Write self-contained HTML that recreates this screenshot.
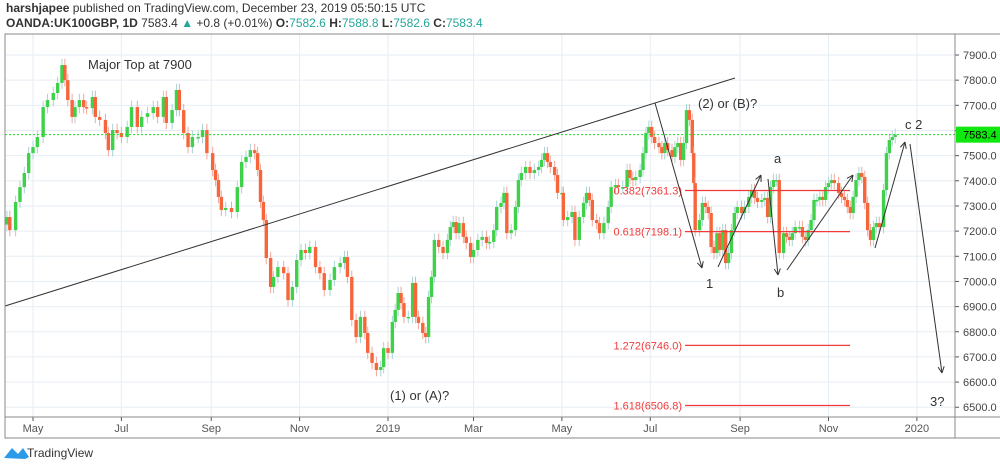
<!DOCTYPE html>
<html><head><meta charset="utf-8"><style>
html,body{margin:0;padding:0;background:#fff;width:1000px;height:467px;overflow:hidden}
svg text{font-family:"Liberation Sans","DejaVu Sans",sans-serif}
</style></head><body>
<svg id="chart" width="1000" height="467" xmlns="http://www.w3.org/2000/svg">
<text x="6" y="12" font-size="12" fill="#333"><tspan font-weight="bold">harshjapee</tspan> published on TradingView.com, December 23, 2019 05:50:15 UTC</text>
<text x="6" y="27" font-size="12" fill="#333"><tspan font-weight="bold">OANDA:UK100GBP, 1D</tspan> 7583.4 <tspan fill="#26a69a">▲</tspan> +0.8 (+0.01%) <tspan font-weight="bold">O:</tspan><tspan fill="#26a69a">7582.6</tspan> <tspan font-weight="bold">H:</tspan><tspan fill="#26a69a">7588.8</tspan> <tspan font-weight="bold">L:</tspan><tspan fill="#26a69a">7582.6</tspan> <tspan font-weight="bold">C:</tspan><tspan fill="#26a69a">7583.4</tspan></text>
<g id="grid"></g>
<g id="candles"></g>
<g id="ann"></g>
<g id="axes"></g>
</svg>
<script>
// days since 2018-05-01
const days=[-18,-16,-12,-9,-6,-3,0,3,7,10,14,17,20,22,24,27,29,32,35,37,41,43,46,50,52,55,58,61,65,68,72,75,79,83,86,90,92,96,99,101,104,107,110,114,117,120,124,126,128,130,133,137,141,144,147,150,153,155,157,159,161,164,166,169,173,176,179,182,185,188,191,195,198,201,205,208,212,215,217,220,223,226,229,231,234,237,240,242,245,248,250,252,254,256,259,262,264,266,269,271,273,275,277,280,283,286,288,290,292,294,297,299,302,304,307,310,313,315,318,320,323,325,327,330,333,335,337,340,343,346,349,351,353,355,357,360,362,365,366,369,372,374,377,380,382,384,386,389,391,394,397,399,402,404,407,410,412,414,416,419,421,423,425,427,429,432,434,436,438,441,443,445,447,449,451,453,455,456,457,460,462,464,466,468,470,472,474,476,478,480,482,484,486,489,491,494,496,498,500,503,505,507,509,511,513,515,518,520,522,524,526,529,531,533,535,537,539,541,543,545,547,549,551,553,556,558,560,562,564,566,568,570,572,574,576,578,580,582,584,587,589,591,593,595];
const closes=[7256,7204,7316,7375,7431,7510,7534,7574,7693,7721,7749,7789,7860,7800,7721,7654,7693,7721,7693,7689,7733,7654,7642,7590,7522,7602,7590,7574,7614,7693,7614,7654,7669,7693,7654,7733,7630,7681,7761,7681,7590,7534,7574,7574,7602,7510,7443,7403,7336,7284,7292,7276,7375,7475,7495,7522,7510,7443,7316,7244,7093,6978,7018,7057,7033,6926,6978,7085,7125,7113,7137,7057,7033,6966,7006,7057,7073,7097,7018,6847,6779,6859,6795,6716,6676,6648,6660,6735,6716,6839,6887,6954,6914,6859,6859,6994,6859,6835,6795,6779,6938,7018,7165,7137,7113,7165,7216,7236,7192,7232,7177,7153,7097,7125,7165,7177,7153,7157,7204,7296,7312,7352,7192,7204,7296,7403,7431,7455,7431,7443,7455,7483,7510,7475,7455,7423,7352,7352,7244,7256,7276,7165,7256,7312,7352,7324,7244,7232,7192,7232,7296,7375,7383,7375,7375,7443,7411,7403,7415,7443,7510,7590,7614,7574,7550,7534,7510,7550,7522,7495,7534,7550,7483,7550,7681,7642,7510,7391,7204,7244,7312,7296,7272,7137,7113,7192,7125,7204,7073,7113,7204,7272,7296,7272,7296,7336,7363,7332,7316,7324,7332,7256,7375,7403,7403,7113,7192,7177,7165,7192,7216,7216,7177,7165,7204,7244,7324,7324,7336,7324,7375,7391,7403,7391,7352,7336,7324,7296,7272,7336,7403,7431,7415,7312,7204,7165,7216,7232,7216,7363,7510,7562,7574,7583];
const priceTicks=[7900,7800,7700,7600,7500,7400,7300,7200,7100,7000,6900,6800,6700,6600,6500];
const monthLabels=["May","Jul","Sep","Nov","2019","Mar","May","Jul","Sep","Nov","2020"];
const monthDays=[0,61,123,184,245,304,365,426,488,549,610];
const fibLabels=["0.382(7361.3)","0.618(7198.1)","1.272(6746.0)","1.618(6506.8)"];
const fibValues=[7361.3,7198.1,6746.0,6506.8];
const lastPrice=7583.4;

const NS="http://www.w3.org/2000/svg";
const X0=5,X1=955,Y0=34,Y1=417;
function xs(d){return 33+d*1.449;}
function ys(v){return 55+(7900-v)*0.2516;}
function mk(tag,attrs,parent){const e=document.createElementNS(NS,tag);for(const k in attrs)e.setAttribute(k,attrs[k]);parent.appendChild(e);return e;}
const grid=document.getElementById('grid'),cg=document.getElementById('candles'),ann=document.getElementById('ann'),ax=document.getElementById('axes');

priceTicks.forEach(v=>{const y=ys(v);
 const l=mk('line',{x1:X0,x2:X1,y1:y,y2:y,stroke:'#e6eef4','stroke-width':1},grid);
 
 
 const t=mk('line',{x1:X1,x2:X1+4,y1:y,y2:y,stroke:'#555'},ax);
 
 
 const tx=mk('text',{x:963,y:y+4,'font-size':11,fill:'#444'},ax);tx.textContent=v.toFixed(1);
 
 
});
monthDays.forEach((d,i)=>{const x=xs(d);
 const l=mk('line',{x1:x,x2:x,y1:Y0,y2:Y1,stroke:'#e6eef4'},grid);
 
 
 const t=mk('line',{x1:x,x2:x,y1:Y1,y2:Y1+4,stroke:'#555'},ax);
 
 
 const tx=mk('text',{x:x,y:432,'font-size':11,fill:'#555','text-anchor':'middle'},ax);tx.textContent=monthLabels[i];
 
 
});

for(let i=0;i<closes.length;i++){
 const c=closes[i],o=i>0?closes[i-1]:c-30;
 const x=xs(days[i]);const up=c>=o;
 const col=up?'#3fd14a':'#f7653b';
 const hi=Math.max(o,c)+25,lo=Math.min(o,c)-25;
 const w=mk('line',{x1:x,x2:x,y1:ys(hi),y2:ys(lo),stroke:up?'#a9d3d6':'#f2a79c','stroke-width':1},cg);
 
 
 const top=ys(Math.max(o,c)),bot=ys(Math.min(o,c));
 const r=mk('rect',{x:x-1.7,y:top,width:3.4,height:Math.max(1.5,bot-top),fill:col},cg);
 
 
}

// last price line
const ly=ys(lastPrice);
const gl=mk('line',{x1:X0,x2:X1,y1:ly,y2:ly,stroke:'#22dd22','stroke-dasharray':'2,2','stroke-width':1},ann);


const gb=mk('rect',{x:956,y:ly-8,width:44,height:16,fill:'#0ee80e'},ax);


const gt=mk('text',{x:963,y:ly+4,'font-size':11,fill:'#000'},ax);gt.textContent=lastPrice.toFixed(1);



// fib levels
fibValues.forEach((v,i)=>{const y=ys(v);
 const l=mk('line',{x1:685,x2:850,y1:y,y2:y,stroke:'#f23a3a','stroke-width':1.3},ann);
 
 
 const t=mk('text',{x:682,y:y+4,'font-size':11,fill:'#f23a3a','text-anchor':'end'},ann);t.textContent=fibLabels[i];
 
 
});

// annotation lines
function arrow(x1,y1,x2,y2,head,name){
 const l=mk('line',{x1,y1,x2,y2,stroke:'#333','stroke-width':1},ann);
 
 
 if(head){const a=Math.atan2(y2-y1,x2-x1);
  [0.45,-0.45].forEach(s=>{const h=mk('line',{x1:x2,y1:y2,x2:x2-7*Math.cos(a+s),y2:y2-7*Math.sin(a+s),stroke:'#333'},ann);
  
  });}
}
arrow(5,306,735,78,false,'trend-line');
arrow(655,103,702,268,true,'wave-1-arrow');
arrow(718,267,761,175,true,'wave-a-arrow');
arrow(768,179,778,275,true,'wave-b-arrow');
arrow(787,270,853,175,true,'wave-c-arrow');
arrow(875,248,905,142,true,'wave-c2-arrow');
arrow(910,144,942,373,true,'wave-3-arrow');

function label(x,y,s,txt,name){const t=mk('text',{x,y,'font-size':s,fill:'#333'},ann);t.textContent=txt;
 
 }
label(88,69,13,'Major Top at 7900','major-top-label');
label(390,400,13,'(1) or (A)?','wave-1a-label');
label(698,108,13,'(2) or (B)?','wave-2b-label');
label(706,288,13,'1','wave-1-label');
label(774,163,13,'a','wave-a-label');
label(777,297,13,'b','wave-b-label');
label(905,129,13,'c 2','wave-c2-label');
label(930,406,13,'3?','wave-3-label');

// frame
const fr=mk('rect',{x:5,y:Y0,width:1000,height:438-Y0,fill:'none',stroke:'#888'},ax);


const bl=mk('line',{x1:5,x2:1000,y1:Y1,y2:Y1,stroke:'#888'},ax);


const vl=mk('line',{x1:X1,x2:X1,y1:Y0,y2:438,stroke:'#888'},ax);


// logo
const lg=mk('path',{d:'M4 458 L12 448 L18 454 L23 448 L29 457 L25 459 Z',fill:'#2d9ae8'},ax);


const lt=mk('text',{x:27,y:457,'font-size':12,fill:'#333'},ax);lt.textContent='TradingView';


</script>
</body></html>
